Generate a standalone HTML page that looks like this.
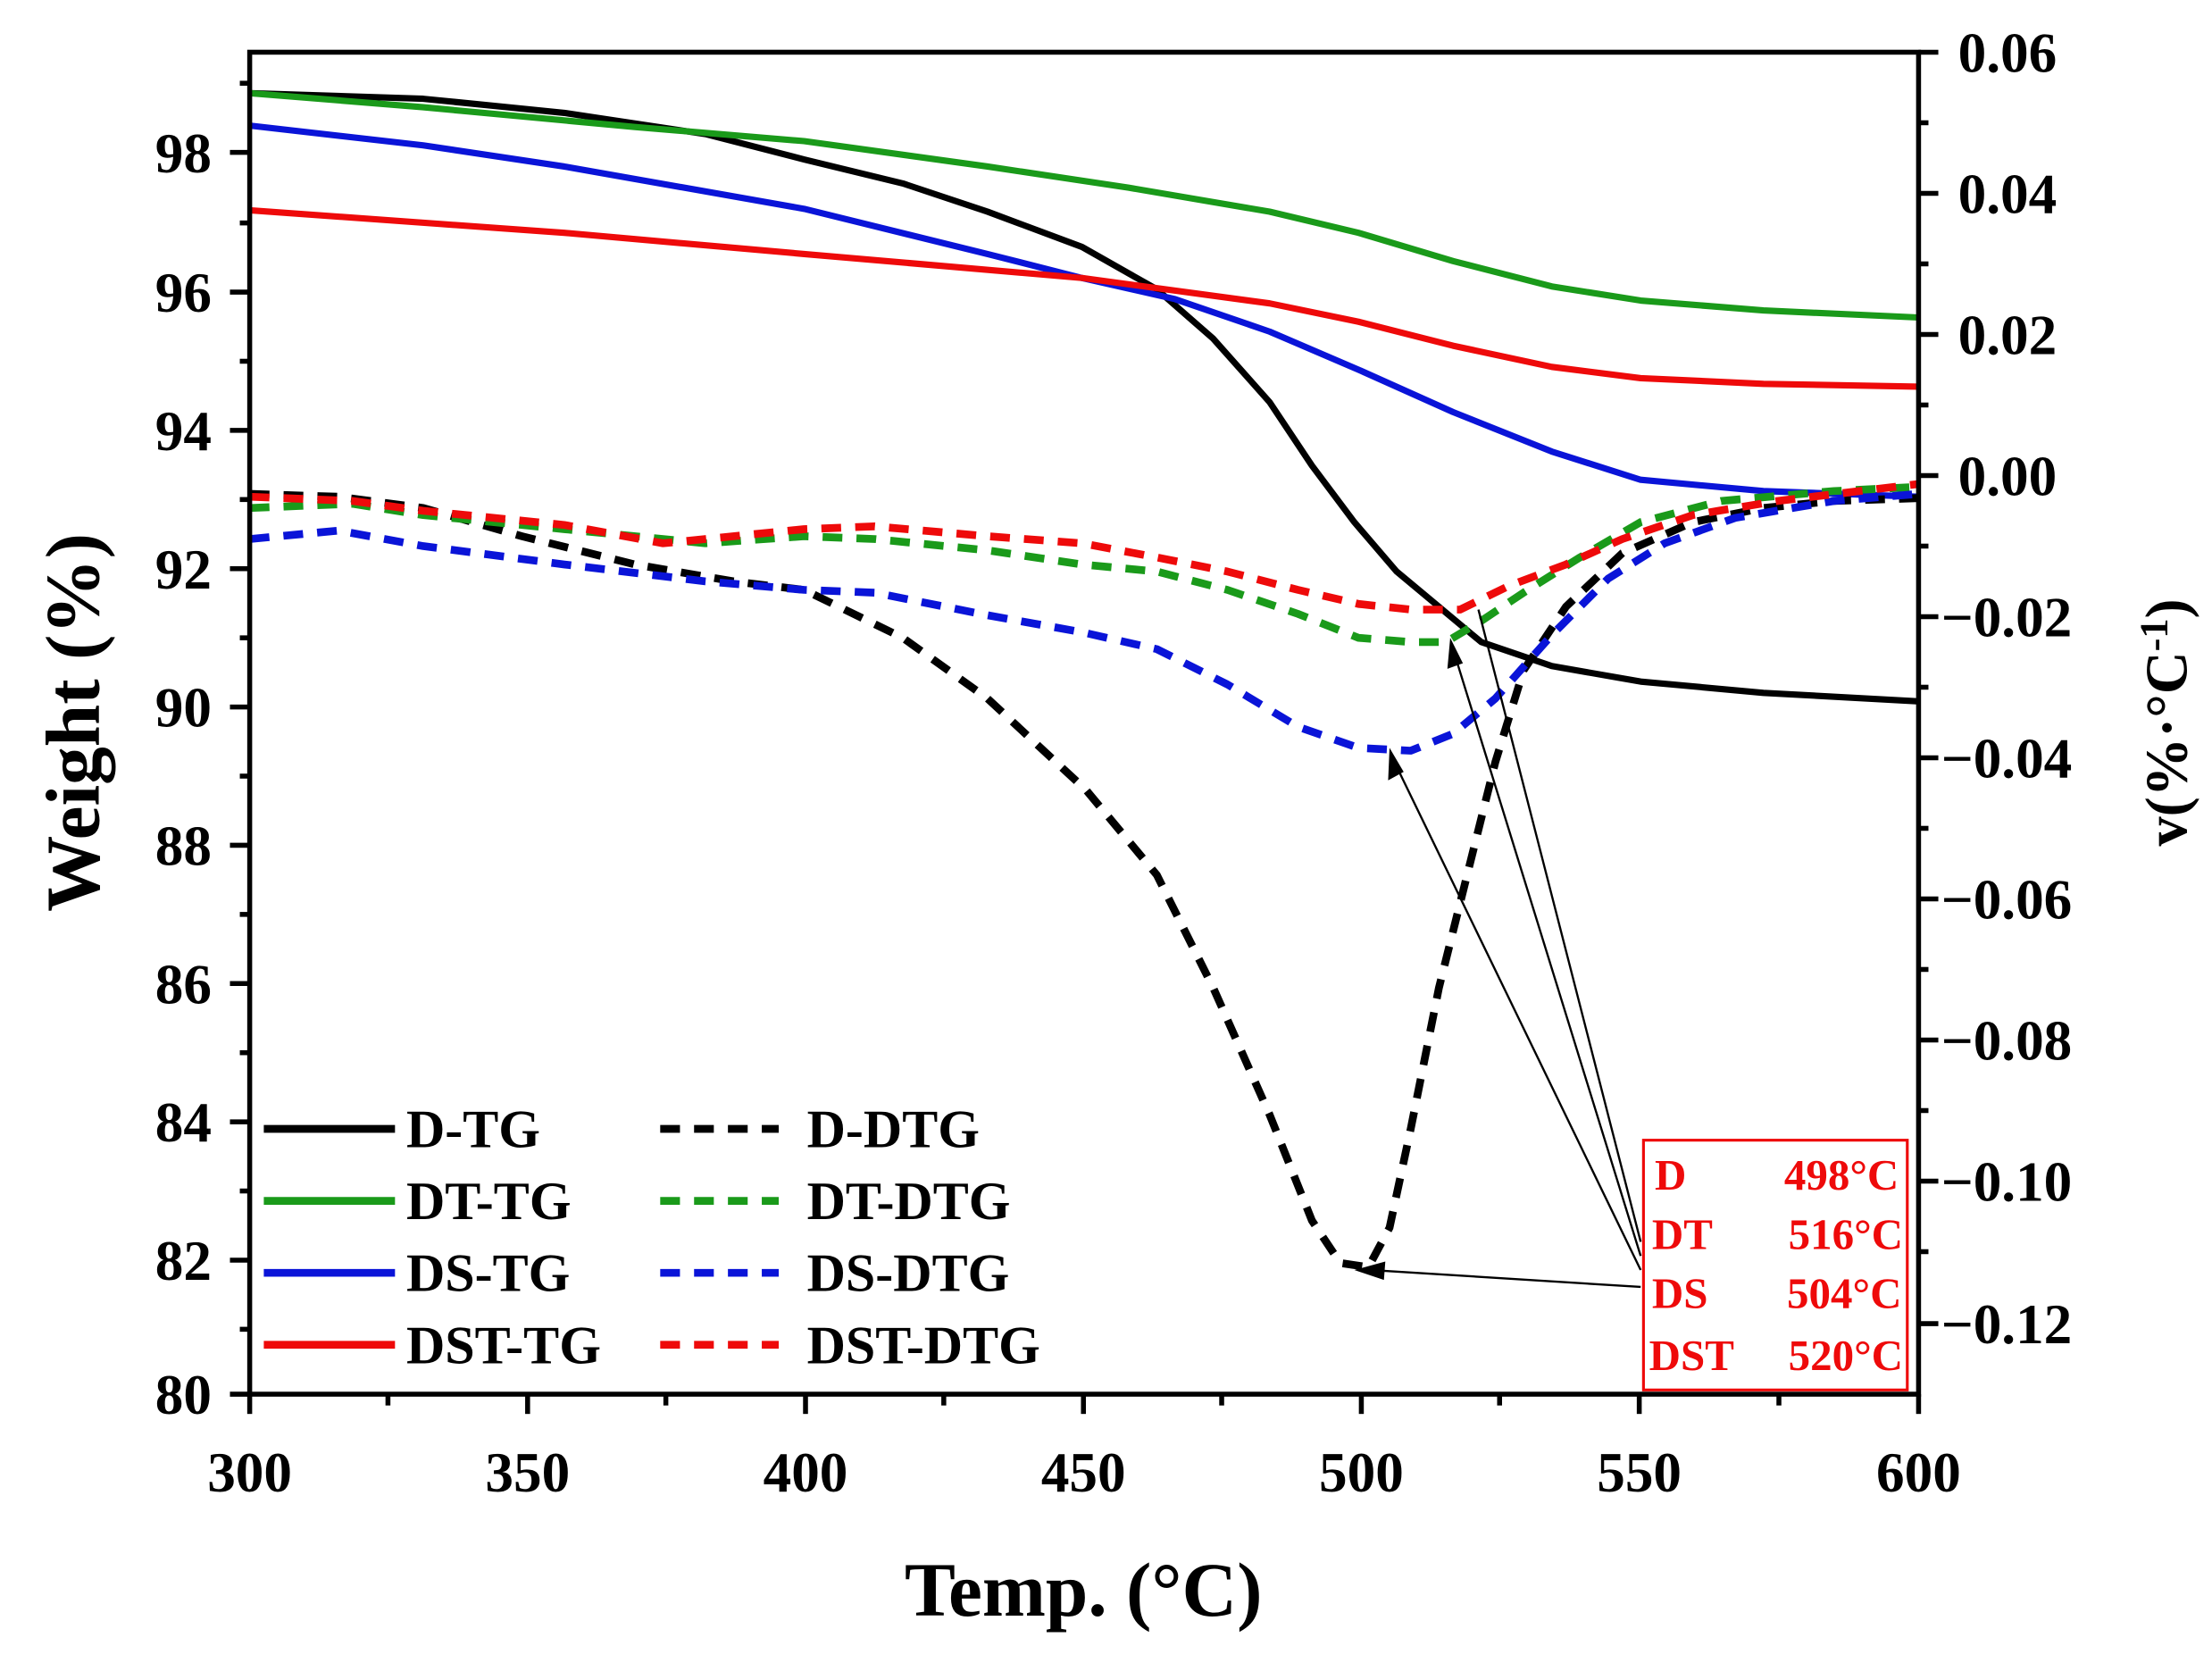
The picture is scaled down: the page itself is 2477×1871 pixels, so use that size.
<!DOCTYPE html>
<html><head><meta charset="utf-8"><style>html,body{margin:0;padding:0;background:#fff;overflow:hidden}</style></head>
<body>
<svg width="2477" height="1866" viewBox="0 0 1568 1181" preserveAspectRatio="none" xmlns="http://www.w3.org/2000/svg" font-family="Liberation Serif, serif" font-weight="bold">
<rect width="1568" height="1181" fill="#fff"/>
<g fill="none" stroke-linejoin="round" stroke-linecap="butt">
<path stroke="#000" stroke-width="4.5" d="M177,66 L300,70 L400,80 L500,95 L570,113 L640,130 L700,150 L767,175 L820,205 L860,240 L900,285 L930,330 L960,370 L990,405 L1020,430 L1050,455 L1100,472 L1163,483 L1250,491 L1360,497"/>
<path stroke="#1a9a1a" stroke-width="4.5" d="M177,66 L300,76 L450,90 L570,100 L700,118 L800,133 L900,150 L963,165 L1030,185 L1100,203 L1163,213 L1250,220 L1360,225"/>
<path stroke="#0a14d8" stroke-width="4.5" d="M177,89 L300,103 L400,118 L570,148 L700,180 L767,197 L833,212 L900,235 L963,262 L1030,292 L1100,320 L1163,340 L1250,348 L1360,352"/>
<path stroke="#ee0a0a" stroke-width="4.5" d="M177,149 L400,165 L570,180 L767,197 L900,215 L963,228 L1030,245 L1100,260 L1163,268 L1250,272 L1360,274"/>
<g stroke-width="5.5" stroke-dasharray="14,10">
<path stroke="#000" d="M177,350 L240,352 L300,360 L370,380 L450,400 L520,412 L570,418 L640,452 L700,495 L770,560 L820,620 L860,700 L900,790 L930,865 L950,895 L970,898 L985,870 L1000,800 L1020,700 L1040,620 L1060,540 L1080,475 L1110,430 L1150,392 L1200,370 L1250,360 L1300,355 L1360,353"/>
<path stroke="#1a9a1a" d="M177,360 L250,357 L300,365 L400,375 L500,385 L570,380 L620,382 L700,390 L767,400 L820,405 L870,418 L920,435 L963,452 L1000,455 L1025,455 L1050,440 L1080,420 L1120,395 L1163,370 L1220,355 L1300,348 L1360,345"/>
<path stroke="#0a14d8" d="M177,382 L240,376 L300,387 L400,400 L500,412 L570,418 L620,420 L700,436 L767,448 L820,460 L870,485 L920,515 L963,530 L1000,532 L1030,520 L1060,495 L1100,450 L1140,410 L1180,385 L1230,367 L1300,355 L1360,350"/>
<path stroke="#ee0a0a" d="M177,352 L250,355 L300,362 L400,372 L470,385 L570,375 L620,373 L700,380 L767,385 L820,395 L870,405 L920,418 L963,428 L1000,432 L1035,432 L1070,415 L1110,400 L1150,382 L1200,365 L1260,355 L1360,343"/>
</g>
<g stroke="#000" stroke-width="1.5">
<line x1="1163" y1="912" x2="972" y2="900"/>
<line x1="1163" y1="900" x2="987" y2="537"/>
<line x1="1163" y1="890" x2="1030" y2="460"/>
<line x1="1163" y1="880" x2="1048" y2="432"/>
</g>
</g>
<g fill="#000">
<polygon points="960,900 982,894 981,907"/>
<polygon points="985,530 984,553 995,547"/>
<polygon points="1028,452 1026,474 1037,470"/>
</g>
<rect x="177" y="37" width="1183" height="951" fill="none" stroke="#000" stroke-width="3.5"/>
<g stroke="#000" stroke-width="3.5">
<line x1="177" y1="988" x2="177" y2="1002"/><line x1="374" y1="988" x2="374" y2="1002"/><line x1="571" y1="988" x2="571" y2="1002"/><line x1="768" y1="988" x2="768" y2="1002"/><line x1="965" y1="988" x2="965" y2="1002"/><line x1="1162" y1="988" x2="1162" y2="1002"/><line x1="1360" y1="988" x2="1360" y2="1002"/>
<line x1="275" y1="988" x2="275" y2="996"/><line x1="472" y1="988" x2="472" y2="996"/><line x1="669" y1="988" x2="669" y2="996"/><line x1="866" y1="988" x2="866" y2="996"/><line x1="1063" y1="988" x2="1063" y2="996"/><line x1="1261" y1="988" x2="1261" y2="996"/>
<line x1="163" y1="108" x2="177" y2="108"/><line x1="163" y1="207" x2="177" y2="207"/><line x1="163" y1="305" x2="177" y2="305"/><line x1="163" y1="403" x2="177" y2="403"/><line x1="163" y1="501" x2="177" y2="501"/><line x1="163" y1="599" x2="177" y2="599"/><line x1="163" y1="697" x2="177" y2="697"/><line x1="163" y1="795" x2="177" y2="795"/><line x1="163" y1="893" x2="177" y2="893"/><line x1="163" y1="988" x2="177" y2="988"/>
<line x1="170" y1="59" x2="177" y2="59"/><line x1="170" y1="158" x2="177" y2="158"/><line x1="170" y1="256" x2="177" y2="256"/><line x1="170" y1="354" x2="177" y2="354"/><line x1="170" y1="452" x2="177" y2="452"/><line x1="170" y1="550" x2="177" y2="550"/><line x1="170" y1="648" x2="177" y2="648"/><line x1="170" y1="746" x2="177" y2="746"/><line x1="170" y1="844" x2="177" y2="844"/><line x1="170" y1="942" x2="177" y2="942"/>
<line x1="1360" y1="37" x2="1374" y2="37"/><line x1="1360" y1="137" x2="1374" y2="137"/><line x1="1360" y1="237" x2="1374" y2="237"/><line x1="1360" y1="337" x2="1374" y2="337"/><line x1="1360" y1="437" x2="1374" y2="437"/><line x1="1360" y1="537" x2="1374" y2="537"/><line x1="1360" y1="637" x2="1374" y2="637"/><line x1="1360" y1="737" x2="1374" y2="737"/><line x1="1360" y1="837" x2="1374" y2="837"/><line x1="1360" y1="938" x2="1374" y2="938"/>
<line x1="1360" y1="87" x2="1367" y2="87"/><line x1="1360" y1="187" x2="1367" y2="187"/><line x1="1360" y1="287" x2="1367" y2="287"/><line x1="1360" y1="387" x2="1367" y2="387"/><line x1="1360" y1="487" x2="1367" y2="487"/><line x1="1360" y1="587" x2="1367" y2="587"/><line x1="1360" y1="687" x2="1367" y2="687"/><line x1="1360" y1="787" x2="1367" y2="787"/><line x1="1360" y1="887" x2="1367" y2="887"/>
</g>
<g font-size="40" text-anchor="middle">
<text x="177" y="1057">300</text><text x="374" y="1057">350</text><text x="571" y="1057">400</text><text x="768" y="1057">450</text><text x="965" y="1057">500</text><text x="1162" y="1057">550</text><text x="1360" y="1057">600</text>
</g>
<g font-size="40" text-anchor="end">
<text x="150" y="122">98</text><text x="150" y="221">96</text><text x="150" y="319">94</text><text x="150" y="417">92</text><text x="150" y="515">90</text><text x="150" y="613">88</text><text x="150" y="711">86</text><text x="150" y="809">84</text><text x="150" y="907">82</text><text x="150" y="1002">80</text>
</g>
<g font-size="40" text-anchor="start">
<text x="1388" y="51">0.06</text><text x="1388" y="151">0.04</text><text x="1388" y="251">0.02</text><text x="1388" y="351">0.00</text><text x="1376" y="451">−0.02</text><text x="1376" y="551">−0.04</text><text x="1376" y="651">−0.06</text><text x="1376" y="751">−0.08</text><text x="1376" y="851">−0.10</text><text x="1376" y="952">−0.12</text>
</g>
<text x="768" y="1145" font-size="54" text-anchor="middle">Temp. (°C)</text>
<text transform="translate(70,512) rotate(-90)" font-size="54" text-anchor="middle">Weight (%)</text>
<text transform="translate(1550,512) rotate(-90)" font-size="42" text-anchor="middle">v(%·°C<tspan font-size="28" dy="-14">-1</tspan><tspan dy="14">)</tspan></text>
<g stroke-width="5.5">
<line x1="187" y1="800" x2="280" y2="800" stroke="#000"/>
<line x1="187" y1="851" x2="280" y2="851" stroke="#1a9a1a"/>
<line x1="187" y1="902" x2="280" y2="902" stroke="#0a14d8"/>
<line x1="187" y1="953" x2="280" y2="953" stroke="#ee0a0a"/>
<g stroke-dasharray="14,10">
<line x1="468" y1="800" x2="552" y2="800" stroke="#000"/>
<line x1="468" y1="851" x2="552" y2="851" stroke="#1a9a1a"/>
<line x1="468" y1="902" x2="552" y2="902" stroke="#0a14d8"/>
<line x1="468" y1="953" x2="552" y2="953" stroke="#ee0a0a"/>
</g></g>
<g font-size="38">
<text x="288" y="813">D-TG</text><text x="288" y="864">DT-TG</text><text x="288" y="915">DS-TG</text><text x="288" y="966">DST-TG</text>
<text x="572" y="813">D-DTG</text><text x="572" y="864">DT-DTG</text><text x="572" y="915">DS-DTG</text><text x="572" y="966">DST-DTG</text>
</g>
<rect x="1165" y="808" width="187" height="177" fill="#fff" stroke="#ee0a0a" stroke-width="2"/>
<g font-size="31" fill="#ee0a0a">
<text x="1173" y="843">D</text><text x="1171" y="885">DT</text><text x="1171" y="927">DS</text><text x="1169" y="971">DST</text>
<text x="1346" y="843" text-anchor="end">498°C</text><text x="1349" y="885" text-anchor="end">516°C</text><text x="1348" y="927" text-anchor="end">504°C</text><text x="1349" y="971" text-anchor="end">520°C</text>
</g>
</svg>
</body></html>
